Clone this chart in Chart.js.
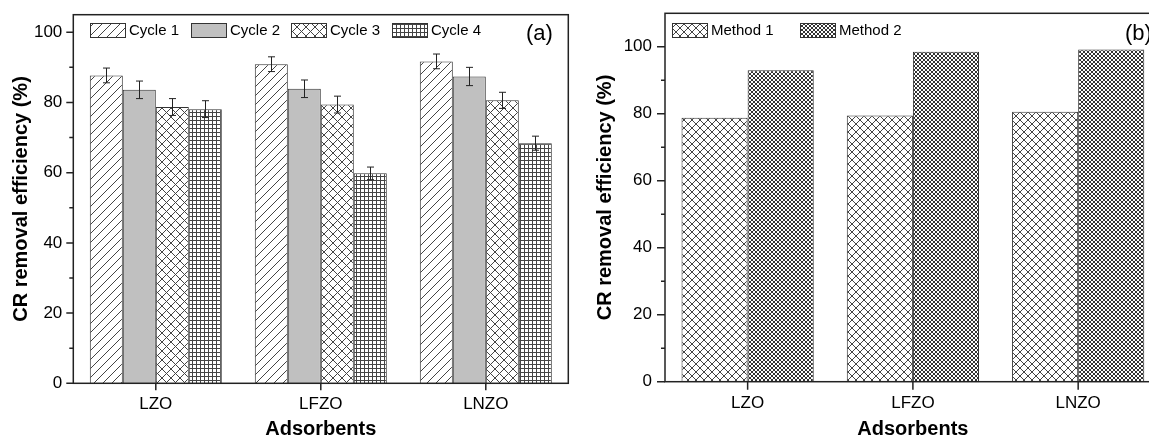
<!DOCTYPE html>
<html>
<head>
<meta charset="utf-8">
<script src="https://cdn.jsdelivr.net/npm/chart.js@4.4.1/dist/chart.umd.min.js"></script>
<style>
  html, body { margin: 0; padding: 0; background: #fff; overflow: hidden; }
  #wrap { position: relative; width: 1149px; height: 437px; overflow: hidden; }
  #chartA { position: absolute; left: 0; top: 0; }
  #chartB { position: absolute; left: 580px; top: 0; }
</style>
</head>
<body>
<div id="wrap">
  <canvas id="chartA" width="580" height="437"></canvas>
  <canvas id="chartB" width="600" height="437"></canvas>
</div>
<script>
// data
const adsorbents = ["LZO", "LFZO", "LNZO"];
const cycleLabels = ["Cycle 1", "Cycle 2", "Cycle 3", "Cycle 4"];
const cycle1 = [87.7, 90.9, 91.7];
const cycle2 = [83.6, 83.9, 87.4];
const cycle3 = [78.7, 79.4, 80.6];
const cycle4 = [78.1, 59.8, 68.4];
const cycle1Err = [2.1, 2.1, 2.1];
const cycle2Err = [2.5, 2.5, 2.6];
const cycle3Err = [2.4, 2.4, 2.3];
const cycle4Err = [2.4, 1.8, 2.0];

const methodLabels = ["Method 1", "Method 2"];
const method1 = [78.8, 79.5, 80.6];
const method2 = [93.0, 98.5, 99.2];

const yTitle = "CR removal efficiency (%)";
const xTitle = "Adsorbents";

Chart.defaults.font.family = "'Liberation Sans', Arial, sans-serif";
Chart.defaults.color = "#000";

function makePattern(kind, size, color) {
  const c = document.createElement("canvas");
  c.width = size;
  c.height = size;
  const g = c.getContext("2d");
  g.fillStyle = "#fff";
  g.fillRect(0, 0, size, size);
  g.strokeStyle = color;
  g.lineWidth = 1;
  g.beginPath();
  if (kind === "slash" || kind === "cross") {
    g.moveTo(-1, size + 1); g.lineTo(size + 1, -1);
    g.moveTo(-1, 1); g.lineTo(1, -1);
    g.moveTo(size - 1, size + 1); g.lineTo(size + 1, size - 1);
  }
  if (kind === "cross") {
    g.moveTo(-1, -1); g.lineTo(size + 1, size + 1);
    g.moveTo(size - 1, -1); g.lineTo(size + 1, 1);
    g.moveTo(-1, size - 1); g.lineTo(1, size + 1);
  }
  if (kind === "grid") {
    g.moveTo(0.5, 0); g.lineTo(0.5, size);
    g.moveTo(0, 0.5); g.lineTo(size, 0.5);
  }
  g.stroke();
  return g.createPattern(c, "repeat");
}

const fillC1 = makePattern("slash", 9, "#444");
const fillC2 = "#c0c0c0";
const fillC3 = makePattern("cross", 9, "#444");
const fillC4 = makePattern("grid", 4, "#444");
const fillM1 = makePattern("cross", 8, "#444");
const fillM2 = makePattern("cross", 4, "#333");

// frame, ticks, error bars, legend and panel letter
function decoPlugin(cfg) {
  return {
    id: "deco",
    afterDatasetsDraw(chart) {
      const ctx = chart.ctx;
      const a = chart.chartArea;
      const xs = chart.scales.x;
      const ys = chart.scales.y;
      ctx.save();

      // error bars
      ctx.strokeStyle = "#222";
      ctx.lineWidth = 1;
      chart.data.datasets.forEach((ds, i) => {
        if (!ds.errors) return;
        chart.getDatasetMeta(i).data.forEach((bar, j) => {
          const x = Math.round(bar.x) + 0.5;
          const y1 = ys.getPixelForValue(ds.data[j] + ds.errors[j]);
          const y2 = ys.getPixelForValue(ds.data[j] - ds.errors[j]);
          ctx.beginPath();
          ctx.moveTo(x, y1); ctx.lineTo(x, y2);
          ctx.moveTo(x - 3.5, y1); ctx.lineTo(x + 3.5, y1);
          ctx.moveTo(x - 3.5, y2); ctx.lineTo(x + 3.5, y2);
          ctx.stroke();
        });
      });

      // frame
      ctx.strokeStyle = "#222";
      ctx.lineWidth = 1.5;
      ctx.strokeRect(a.left, a.top, a.right - a.left, a.bottom - a.top);

      // y ticks, major every 20, minor every 10
      ctx.beginPath();
      for (let v = 0; v <= 100; v += 10) {
        const y = ys.getPixelForValue(v);
        const len = v % 20 === 0 ? cfg.major : 4;
        ctx.moveTo(a.left, y);
        ctx.lineTo(a.left - len, y);
      }
      // x ticks at category centres
      adsorbents.forEach((_, i) => {
        const x = xs.getPixelForValue(i);
        ctx.moveTo(x, a.bottom);
        ctx.lineTo(x, a.bottom + cfg.major);
      });
      ctx.stroke();

      // legend
      ctx.font = "15px 'Liberation Sans', Arial, sans-serif";
      ctx.textBaseline = "middle";
      ctx.textAlign = "left";
      ctx.lineWidth = 1;
      chart.data.datasets.forEach((ds, i) => {
        const bx = Math.round(a.left + cfg.legendX + i * cfg.legendStep) + 0.5;
        const by = Math.round(a.top + cfg.legendY) + 0.5;
        ctx.fillStyle = ds.backgroundColor;
        ctx.fillRect(bx, by, 35, 14);
        ctx.strokeStyle = "#333";
        ctx.strokeRect(bx, by, 35, 14);
        ctx.fillStyle = "#000";
        ctx.fillText(ds.label, bx + 38.5, by + 7.5);
      });

      // panel letter
      ctx.font = "22px 'Liberation Sans', Arial, sans-serif";
      ctx.fillText(cfg.letter, cfg.letterX, 34);
      ctx.restore();
    }
  };
}

function baseOptions(opts) {
  return {
    responsive: false,
    animation: false,
    layout: { padding: { left: 0, right: opts.padRight, top: opts.padTop, bottom: 0 } },
    plugins: { legend: { display: false }, tooltip: { enabled: false } },
    scales: {
      x: {
        grid: { display: false, drawTicks: false, offset: false },
        border: { display: false },
        ticks: { color: "#000", font: { size: 17 }, padding: 11 },
        title: {
          display: true,
          text: xTitle,
          color: "#000",
          font: { size: 20, weight: "bold", lineHeight: 0.8 },
          padding: 0
        },
        afterFit: (s) => {
          s.height = opts.xHeight;
          s.paddingLeft = 0;
          s.paddingRight = 0;
        }
      },
      y: {
        min: 0,
        max: opts.yMax,
        grid: { display: false, drawTicks: false },
        border: { display: false },
        ticks: { stepSize: 20, includeBounds: false, color: "#000", font: { size: 17 }, padding: opts.tickPad },
        title: {
          display: true,
          text: yTitle,
          color: "#000",
          font: { size: 20, weight: "bold", lineHeight: 1.2 },
          padding: { top: opts.titlePad, bottom: 0 }
        },
        afterFit: (s) => {
          s.width = opts.yWidth;
          s.paddingTop = 0;
          s.paddingBottom = 0;
        }
      }
    }
  };
}

const barStyle = { borderColor: "#333", borderWidth: 1, categoryPercentage: 0.8, barPercentage: 1.0 };

new Chart(document.getElementById("chartA"), {
  type: "bar",
  data: {
    labels: adsorbents,
    datasets: [
      { label: cycleLabels[0], data: cycle1, errors: cycle1Err, backgroundColor: fillC1, ...barStyle },
      { label: cycleLabels[1], data: cycle2, errors: cycle2Err, backgroundColor: fillC2, ...barStyle },
      { label: cycleLabels[2], data: cycle3, errors: cycle3Err, backgroundColor: fillC3, ...barStyle },
      { label: cycleLabels[3], data: cycle4, errors: cycle4Err, backgroundColor: fillC4, ...barStyle }
    ]
  },
  options: baseOptions({ padRight: 11.7, padTop: 14.7, xHeight: 53.7, yWidth: 73.3, yMax: 105, tickPad: 11, titlePad: 9 }),
  plugins: [decoPlugin({ major: 7, legendX: 16.7, legendStep: 100.7, legendY: 8, letter: "(a)", letterX: 526 })]
});

new Chart(document.getElementById("chartB"), {
  type: "bar",
  data: {
    labels: adsorbents,
    datasets: [
      { label: methodLabels[0], data: method1, backgroundColor: fillM1, ...barStyle },
      { label: methodLabels[1], data: method2, backgroundColor: fillM2, ...barStyle }
    ]
  },
  options: baseOptions({ padRight: 19.2, padTop: 13.3, xHeight: 55.3, yWidth: 85, yMax: 110, tickPad: 13, titlePad: 13.7 }),
  plugins: [decoPlugin({ major: 8, legendX: 7.3, legendStep: 127.5, legendY: 9.4, letter: "(b)", letterX: 545 })]
});
</script>
</body>
</html>
